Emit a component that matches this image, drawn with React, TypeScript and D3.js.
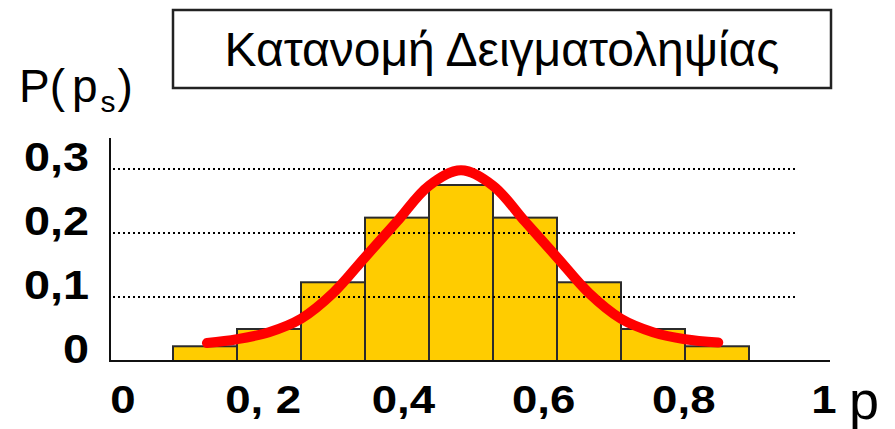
import React, { useEffect, useRef } from "react";
import * as d3 from "d3";

// histogram bars (centre of each bin) and heights
const binCentres = [0.1, 0.2, 0.3, 0.4, 0.5, 0.6, 0.7, 0.8, 0.9];
const binValues = [0.023, 0.05, 0.123, 0.224, 0.275, 0.224, 0.123, 0.05, 0.023];

// red smooth curve
const curveP = [0.103, 0.15, 0.2, 0.25, 0.3, 0.35, 0.4, 0.45, 0.5, 0.55, 0.6, 0.65, 0.7, 0.75, 0.8, 0.85, 0.902];
const curveV = [0.028, 0.034, 0.045, 0.066, 0.106, 0.162, 0.218, 0.274, 0.298, 0.274, 0.218, 0.162, 0.106, 0.066, 0.045, 0.034, 0.029];

const yTicks = [0, 0.1, 0.2, 0.3];
const yTickLabels = ["0", "0,1", "0,2", "0,3"];
const xTicks = [0, 0.2, 0.4, 0.6, 0.8, 1];
const xTickLabels = ["0", "0, 2", "0,4", "0,6", "0,8", "1"];

const title = "Κατανομή Δειγματοληψίας";

const App = () => {
    const svgRef = useRef<SVGSVGElement>(null);

    useEffect(() => {
        const svg = d3.select(svgRef.current);
        svg.selectAll("*").remove();

        const font = "'Liberation Sans', Arial, sans-serif";

        // scales
        const binScale = d3.scaleLinear().domain([0.05, 0.95]).range([173, 749]);
        const labelScale = d3.scaleLinear().domain([0, 1]).range([123, 824]);
        const yScale = d3.scaleLinear().domain([0, 0.3]).range([361, 169]);

        // title box
        svg.append("rect")
            .attr("x", 173).attr("y", 10)
            .attr("width", 658).attr("height", 78)
            .attr("fill", "white")
            .attr("stroke", "#222")
            .attr("stroke-width", 2.5);

        svg.append("text")
            .attr("x", 502).attr("y", 66)
            .attr("text-anchor", "middle")
            .attr("font-family", font)
            .attr("font-size", 48)
            .text(title);

        // y axis title P(p_s)
        const yt = svg.append("text")
            .attr("x", 19).attr("y", 102)
            .attr("font-family", font)
            .attr("font-size", 46);
        yt.append("tspan").text("P(");
        yt.append("tspan").attr("dx", 7).text("p");
        yt.append("tspan").attr("font-size", 30).attr("dx", 3).attr("dy", 10).text("s");
        yt.append("tspan").attr("dx", 2).attr("dy", -10).text(")");

        // bars
        const bw = binScale(0.1) - binScale(0);
        svg.append("g")
            .selectAll("rect")
            .data(binCentres)
            .join("rect")
            .attr("x", (d) => binScale(d - 0.05))
            .attr("y", (d, i) => yScale(binValues[i]))
            .attr("width", bw)
            .attr("height", (d, i) => yScale(0) - yScale(binValues[i]))
            .attr("fill", "#FFCC00")
            .attr("stroke", "#2b2b2b")
            .attr("stroke-width", 2);

        // dotted grid
        svg.append("g")
            .selectAll("line")
            .data(yTicks.filter((d) => d > 0))
            .join("line")
            .attr("x1", 113).attr("x2", 795)
            .attr("y1", (d) => yScale(d)).attr("y2", (d) => yScale(d))
            .attr("stroke", "black")
            .attr("stroke-width", 2)
            .attr("stroke-dasharray", "2 3");

        // axes
        svg.append("line")
            .attr("x1", 110).attr("x2", 110)
            .attr("y1", 138).attr("y2", yScale(0) + 1)
            .attr("stroke", "#111").attr("stroke-width", 2);
        svg.append("line")
            .attr("x1", 109).attr("x2", 830)
            .attr("y1", yScale(0)).attr("y2", yScale(0))
            .attr("stroke", "#111").attr("stroke-width", 2);

        // curve
        const pts = curveP.map((p, i) => [p, curveV[i]] as [number, number]);
        const line = d3.line<[number, number]>()
            .x((d) => binScale(d[0]))
            .y((d) => yScale(d[1]))
            .curve(d3.curveCatmullRom.alpha(0.5));
        svg.append("path")
            .datum(pts)
            .attr("d", line)
            .attr("fill", "none")
            .attr("stroke", "#FF0000")
            .attr("stroke-width", 10)
            .attr("stroke-linecap", "round")
            .attr("stroke-linejoin", "round");

        // y tick labels (slightly stretched wide like the original)
        svg.append("g")
            .selectAll("text")
            .data(yTicks)
            .join("text")
            .attr("transform", (d) => `translate(89,${yScale(d) + 2}) scale(1.17,1)`)
            .attr("text-anchor", "end")
            .attr("font-family", font)
            .attr("font-weight", "bold")
            .attr("font-size", 40)
            .text((d, i) => yTickLabels[i]);

        // x tick labels
        svg.append("g")
            .selectAll("text")
            .data(xTicks)
            .join("text")
            .attr("transform", (d) => `translate(${labelScale(d)},413) scale(1.2,1)`)
            .attr("text-anchor", "middle")
            .attr("font-family", font)
            .attr("font-weight", "bold")
            .attr("font-size", 38)
            .text((d, i) => xTickLabels[i]);

        // x axis title
        svg.append("text")
            .attr("x", 849).attr("y", 419)
            .attr("font-family", font)
            .attr("font-size", 54)
            .text("p");
    }, []);

    return (
        <svg
            ref={svgRef}
            width={895}
            height={429}
            style={{ position: "absolute", left: 0, top: 0, background: "white" }}
        ></svg>
    );
};

export default App;
